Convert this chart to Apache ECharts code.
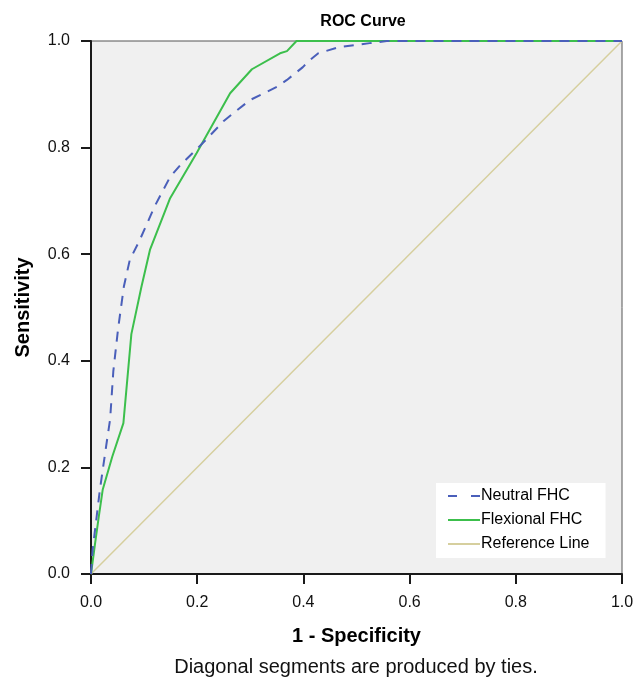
<!DOCTYPE html>
<html>
<head>
<meta charset="utf-8">
<script src="https://cdn.jsdelivr.net/npm/echarts@6/dist/echarts.min.js"></script>
<style>
  html, body { margin: 0; padding: 0; background: #fff; }
  #chart { width: 644px; height: 688px; }
</style>
</head>
<body>
<div id="chart"></div>
<script>
// ROC curve points (1 - specificity, sensitivity)
const neutralX = [0, 0.003, 0.017, 0.030, 0.036, 0.042, 0.051, 0.062, 0.073, 0.092, 0.120, 0.149, 0.168, 0.211, 0.250, 0.299, 0.350, 0.369, 0.399, 0.412, 0.428, 0.469, 0.525, 0.557, 1.0];
const neutralY = [0, 0.045, 0.160, 0.250, 0.290, 0.380, 0.460, 0.540, 0.589, 0.627, 0.690, 0.745, 0.767, 0.809, 0.850, 0.889, 0.914, 0.927, 0.951, 0.964, 0.977, 0.989, 0.996, 1.0, 1.0];

const flexX = [0, 0.008, 0.015, 0.022, 0.040, 0.061, 0.076, 0.095, 0.111, 0.149, 0.199, 0.262, 0.303, 0.356, 0.369, 0.387, 1.0];
const flexY = [0, 0.060, 0.110, 0.158, 0.220, 0.283, 0.450, 0.539, 0.608, 0.705, 0.790, 0.902, 0.947, 0.977, 0.981, 1.0, 1.0];

const refX = [0, 1];
const refY = [0, 1];

const tickLabels = ['0.0', '0.2', '0.4', '0.6', '0.8', '1.0'];
const seriesNames = ['Neutral FHC', 'Flexional FHC', 'Reference Line'];

const pair = (xs, ys) => xs.map((x, i) => [x, ys[i]]);

const chart = echarts.init(document.getElementById('chart'));
const font = '"Liberation Sans", Arial, sans-serif';

// legend icons: short line swatches (dashed for the first one)
const dashIcon = 'path://M0,0h9v2h-9z M23,0h9v2h-9z';
const solidIcon = 'path://M0,0h32v2h-32z';

const axisCommon = {
  type: 'value',
  min: 0,
  max: 1,
  interval: 0.2,
  splitLine: { show: false },
  axisLine: { show: true, lineStyle: { color: '#1a1a1a', width: 2 } },
  axisTick: { show: true, inside: false, length: 10, lineStyle: { color: '#1a1a1a', width: 2 } },
  axisLabel: {
    color: '#111',
    fontSize: 16,
    fontFamily: font,
    margin: 21,
    formatter: v => tickLabels[Math.round(v * 5)]
  },
  nameLocation: 'middle',
  nameTextStyle: { color: '#000', fontSize: 20, fontWeight: 'bold', fontFamily: font }
};

const option = {
  animation: false,
  backgroundColor: '#fff',
  title: {
    text: 'ROC Curve',
    left: 358,
    textAlign: 'center',
    top: 9,
    textStyle: { fontSize: 16, fontWeight: 'bold', color: '#000', fontFamily: font }
  },
  grid: {
    left: 91, top: 41, width: 531, height: 533,
    show: true,
    backgroundColor: '#f0f0f0',
    borderColor: '#555',
    borderWidth: 1
  },
  xAxis: Object.assign({}, axisCommon, {
    name: '1 - Specificity',
    nameGap: 52
  }),
  yAxis: Object.assign({}, axisCommon, {
    name: 'Sensitivity',
    nameGap: 58
  }),
  legend: {
    orient: 'vertical',
    left: 436,
    top: 483,
    backgroundColor: '#fff',
    padding: [5, 16, 6, 12],
    itemWidth: 32,
    itemHeight: 14,
    itemGap: 8,
    textStyle: { color: '#000', fontSize: 16, fontFamily: font, padding: [0, 0, 0, -4] },
    data: [
      { name: seriesNames[0], icon: dashIcon },
      { name: seriesNames[1], icon: solidIcon },
      { name: seriesNames[2], icon: solidIcon }
    ]
  },
  graphic: [{
    type: 'text',
    x: 356,
    y: 657,
    style: {
      text: 'Diagonal segments are produced by ties.',
      fill: '#111',
      font: '20px ' + font,
      align: 'center'
    }
  }],
  series: [
    {
      name: seriesNames[2],
      type: 'line',
      data: pair(refX, refY),
      symbol: 'none',
      lineStyle: { color: '#d6cf9e', width: 1.5 },
      itemStyle: { color: '#d6cf9e' }
    },
    {
      name: seriesNames[1],
      type: 'line',
      data: pair(flexX, flexY),
      symbol: 'none',
      lineStyle: { color: '#3cbf4c', width: 2 },
      itemStyle: { color: '#3cbf4c' }
    },
    {
      name: seriesNames[0],
      type: 'line',
      data: pair(neutralX, neutralY),
      symbol: 'none',
      lineStyle: { color: '#4a5fba', width: 2, type: [10, 8] },
      itemStyle: { color: '#4a5fba' }
    }
  ]
};

chart.setOption(option);
</script>
</body>
</html>
